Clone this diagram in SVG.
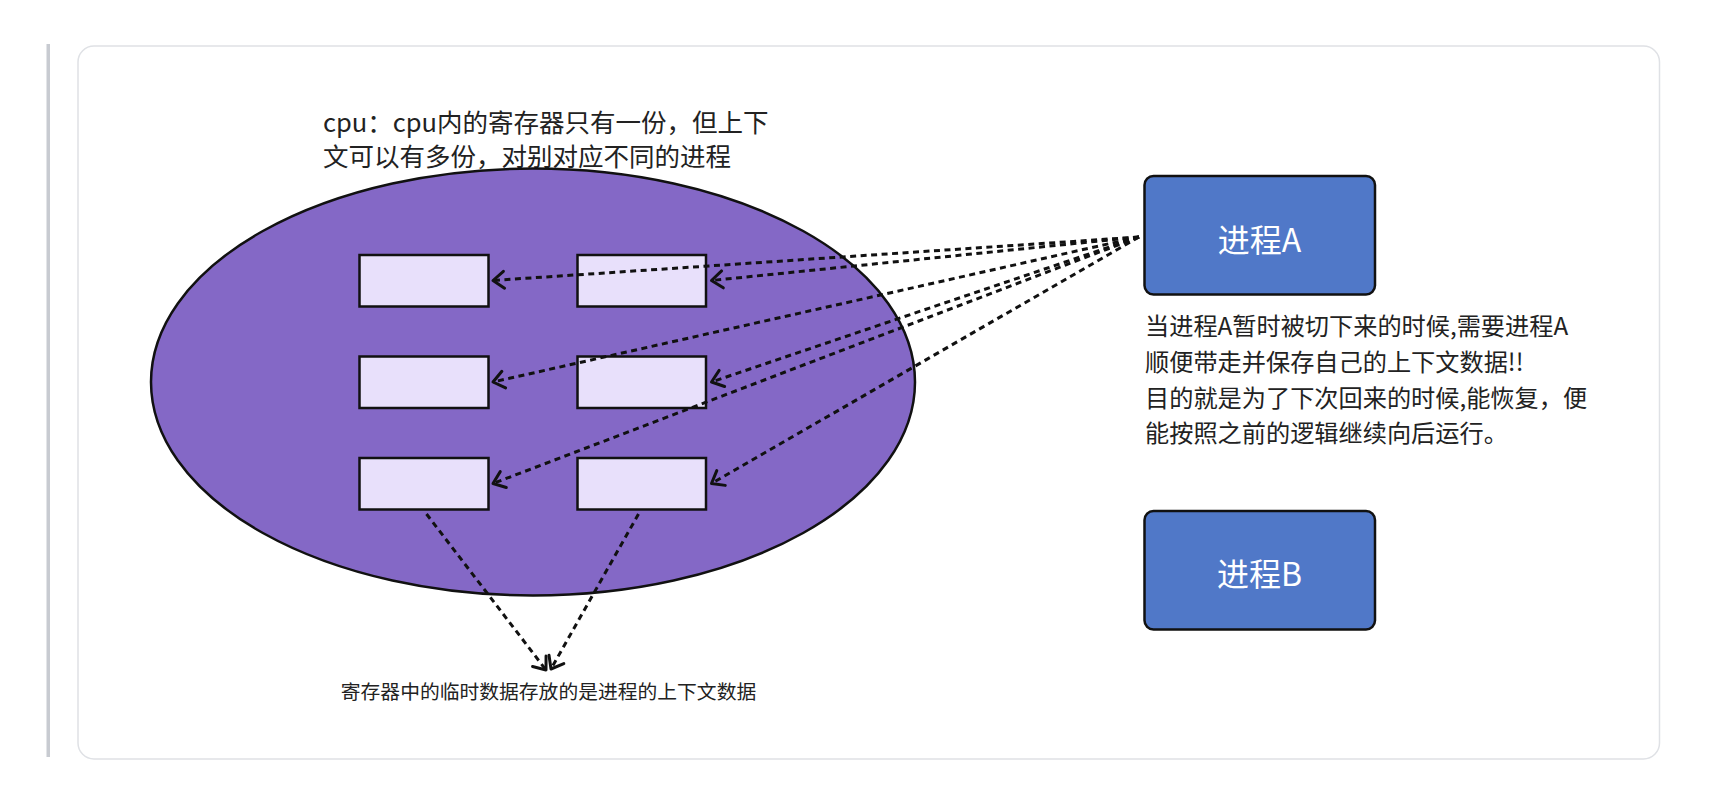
<svg xmlns="http://www.w3.org/2000/svg" width="1713" height="801" viewBox="0 0 1713 801">
<style>
  .t { font-family: "Noto Sans CJK SC", "Noto Sans", sans-serif; fill: #222; }
  .reg { fill: #e8e0fb; stroke: #111; stroke-width: 2.5; }
  .proc { fill: #5078c8; stroke: #111; stroke-width: 2.5; }
  .ptxt { font-family: "Noto Sans CJK SC", "Noto Sans", sans-serif; fill: #fff; font-size: 32px; text-anchor: middle; }
  .conn { fill: none; stroke: #111; stroke-width: 3; stroke-dasharray: 6 4.5; marker-end: url(#open); }
</style>
<defs>
  <marker id="open" markerUnits="userSpaceOnUse" viewBox="-14 -12 16 24" markerWidth="16" markerHeight="24" refX="0" refY="0" orient="auto" overflow="visible">
    <path d="M -11 -8.5 L 0 0 L -11 8.5" fill="none" stroke="#111" stroke-width="3" stroke-dasharray="none" stroke-linecap="round" stroke-linejoin="round"/>
  </marker>
</defs>
<rect x="0" y="0" width="1713" height="801" fill="#ffffff"/>
<rect x="46.5" y="44" width="3.5" height="713" fill="#c8cbd1"/>
<rect x="78" y="46" width="1581.5" height="713" rx="16" ry="16" fill="#ffffff" stroke="#dfe1e5" stroke-width="1.5"/>

<g id="cpu-label">
  <text class="t" x="323" y="132" font-size="25.5">cpu：cpu内的寄存器只有一份，但上下</text>
  <text class="t" x="323" y="166" font-size="25.5">文可以有多份，对别对应不同的进程</text>
</g>

<g id="cpu">
  <ellipse cx="533" cy="382" rx="382" ry="213.5" fill="#8468c6" stroke="#111" stroke-width="2.5"/>
</g>
<g id="reg-l1"><rect class="reg" x="359.5" y="255" width="129" height="51.5"/></g>
<g id="reg-r1"><rect class="reg" x="577.5" y="255" width="128.5" height="51.5"/></g>
<g id="reg-l2"><rect class="reg" x="359.5" y="356.5" width="129" height="51.5"/></g>
<g id="reg-r2"><rect class="reg" x="577.5" y="356.5" width="128.5" height="51.5"/></g>
<g id="reg-l3"><rect class="reg" x="359.5" y="458" width="129" height="51.5"/></g>
<g id="reg-r3"><rect class="reg" x="577.5" y="458" width="128.5" height="51.5"/></g>

<g id="procA">
  <rect class="proc" x="1144.5" y="176" width="230.5" height="118.5" rx="9" ry="9"/>
  <text class="ptxt" x="1259.5" y="252">进程A</text>
</g>
<g id="procB">
  <rect class="proc" x="1144.5" y="511" width="230.5" height="118.5" rx="9" ry="9"/>
  <text class="ptxt" x="1259.5" y="586">进程B</text>
</g>

<g id="desc">
  <text class="t" x="1145" y="335" font-size="24.2">当进程A暂时被切下来的时候,需要进程A</text>
  <text class="t" x="1145" y="371" font-size="24.2">顺便带走并保存自己的上下文数据!!</text>
  <text class="t" x="1145" y="406.5" font-size="24.2">目的就是为了下次回来的时候,能恢复，便</text>
  <text class="t" x="1145" y="442" font-size="24.2">能按照之前的逻辑继续向后运行。</text>
</g>

<g id="bottom-label">
  <text class="t" x="548.5" y="699" font-size="19.8" text-anchor="middle">寄存器中的临时数据存放的是进程的上下文数据</text>
</g>

<g id="connectors">
  <line class="conn" x1="1139" y1="237" x2="493" y2="280.5"/>
  <line class="conn" x1="1139" y1="237" x2="711.5" y2="280.5"/>
  <line class="conn" x1="1139" y1="237" x2="493" y2="382"/>
  <line class="conn" x1="1139" y1="237" x2="711.5" y2="382"/>
  <line class="conn" x1="1139" y1="237" x2="493" y2="483.5"/>
  <line class="conn" x1="1139" y1="237" x2="711.5" y2="483.5"/>
  <line class="conn" x1="426.5" y1="514" x2="546" y2="670"/>
  <line class="conn" x1="638.5" y1="514" x2="551" y2="669"/>
</g>
</svg>
